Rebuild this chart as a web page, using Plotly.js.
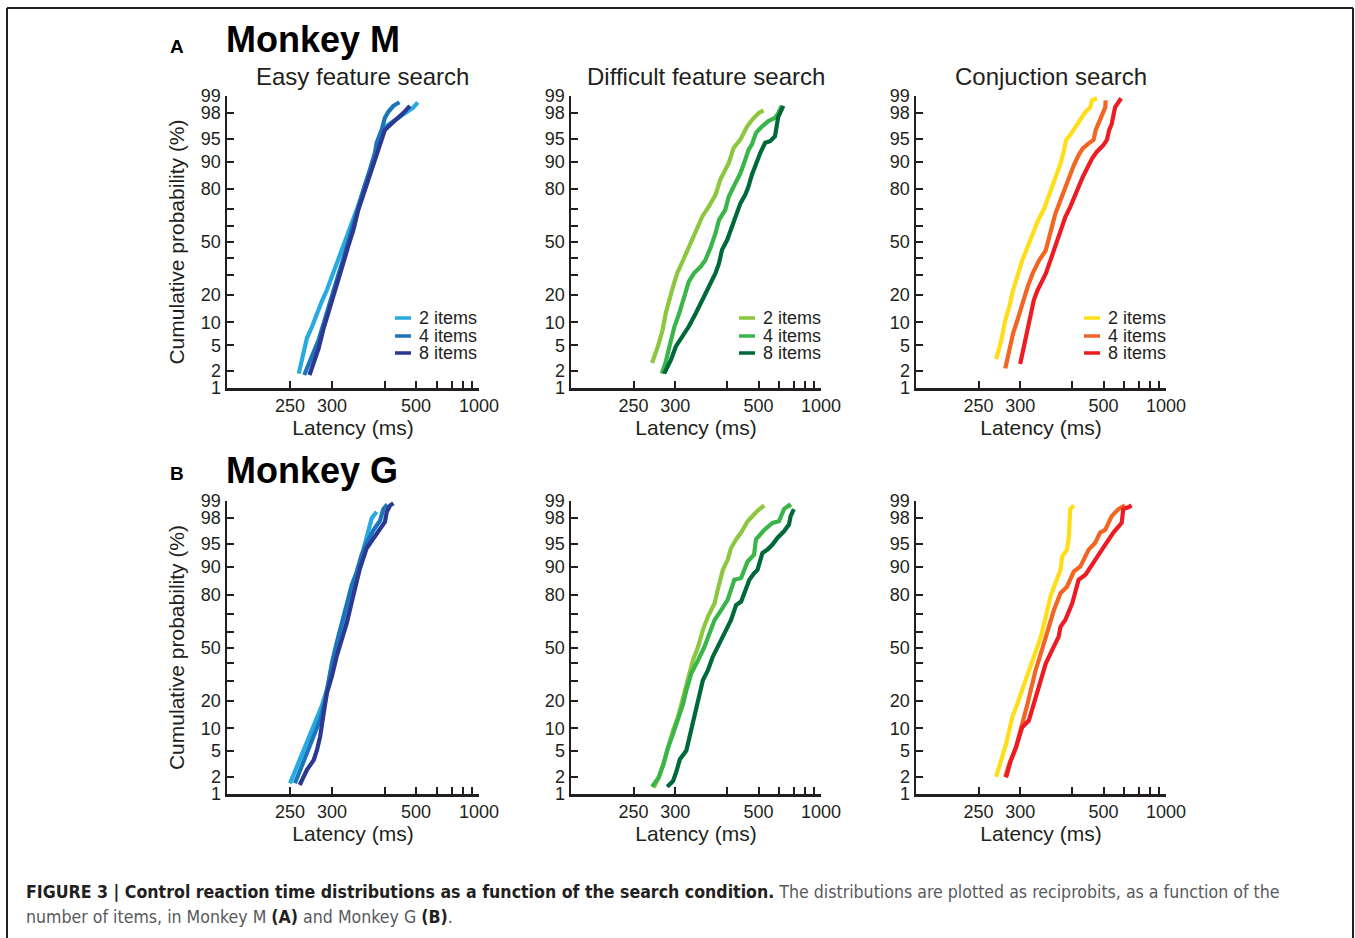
<!DOCTYPE html>
<html><head><meta charset="utf-8">
<script src="https://cdn.plot.ly/plotly-3.0.1.min.js"></script>
<style>html,body{margin:0;padding:0;background:#fff}#chart{width:1355px;height:938px}</style>
</head><body><div id="chart"></div>
<script>
// ---------- labels ----------
const itemLabels = ['2 items', '4 items', '8 items'];
const panelTitles = ['Easy feature search', 'Difficult feature search', 'Conjuction search'];
const monkeyTitles = ['Monkey M', 'Monkey G'];
const panelLetters = ['A', 'B'];
const xTitle = 'Latency (ms)';
const yTitle = 'Cumulative probability (%)';
const xTickVals = [250, 300, 400, 500, 600, 700, 800, 900, 1000];
const xTickText = ['250', '300', '', '500', '', '', '', '', '1000'];
const yTickVals = [1, 2, 5, 10, 20, 30, 40, 50, 60, 70, 80, 90, 95, 98, 99];
const yTickText = ['1', '2', '5', '10', '20', '', '', '50', '', '', '80', '90', '95', '98', '99'];
const blues = ['#27AAE1', '#1C75BC', '#2B3990'];
const greens = ['#8DC63F', '#39B54A', '#00693A'];
const warms = ['#FFDE17', '#F26522', '#ED1C24'];

// ---------- Monkey M : easy feature search ----------
const mEasy2Lat = [259, 262, 266, 268, 274, 280, 286, 293, 300, 307, 315, 323, 328, 340, 353, 366, 381, 393, 406, 429, 460, 490, 507];
const mEasy2Pct = [1.8, 2.8, 4.3, 6.3, 8.9, 12.8, 17.1, 22.3, 29.1, 36.8, 45.1, 53.5, 57.7, 69.6, 79.8, 87.5, 92.9, 95.6, 96.8, 97.4, 97.9, 98.4, 98.7];
const mEasy4Lat = [265, 270, 276, 282, 287, 293, 300, 307, 315, 323, 331, 340, 353, 366, 377, 381, 393, 401, 410, 424, 442];
const mEasy4Pct = [1.7, 2.7, 4.0, 5.9, 8.9, 12.8, 19.2, 27.3, 36.8, 47.2, 57.7, 69.6, 79.8, 87.5, 92.2, 94.3, 96.3, 97.6, 98.1, 98.5, 98.7];
const mEasy8Lat = [271, 276, 282, 288, 295, 302, 309, 317, 325, 334, 343, 356, 370, 385, 393, 401, 415, 434, 454, 477];
const mEasy8Pct = [1.7, 2.7, 4.5, 8.1, 12.8, 19.2, 27.3, 36.8, 47.2, 57.7, 69.6, 79.8, 87.5, 92.9, 94.8, 96.3, 96.9, 97.5, 98.0, 98.5];

// ---------- Monkey M : difficult feature search ----------
const mDiff2Lat = [270, 277, 283, 287, 297, 303, 311, 324, 333, 345, 358, 372, 383, 404, 417, 437, 458, 475, 500, 521];
const mDiff2Pct = [2.7, 4.8, 8.1, 12.8, 23.9, 31, 37.8, 49.3, 57.7, 65.8, 71.5, 77.4, 84, 89.6, 93.3, 94.9, 96.7, 97.4, 98.0, 98.2];
const mDiff4Lat = [282, 287, 292, 299, 306, 313, 321, 330, 342, 351, 361, 372, 380, 395, 404, 422, 437, 452, 463, 475, 490, 514, 543, 576, 594, 614];
const mDiff4Pct = [1.8, 2.8, 4.8, 8.9, 12.8, 19.2, 26.4, 31, 34.8, 38.8, 46.1, 55.6, 63.8, 69.6, 76.6, 82.6, 86.4, 90.5, 92.9, 94.0, 95.9, 96.7, 97.3, 97.6, 98.0, 98.5];
const mDiff8Lat = [285, 294, 301, 311, 321, 333, 345, 358, 372, 380, 387, 400, 413, 422, 437, 452, 463, 475, 490, 507, 528, 551, 576, 594, 624];
const mDiff8Pct = [1.8, 3.0, 4.8, 6.6, 8.9, 12.8, 17.8, 23.9, 31, 36.8, 45, 51.4, 59.8, 65.8, 73.2, 77.4, 81.2, 85.8, 89.6, 92.2, 94.3, 94.6, 95.4, 97.7, 98.5];

// ---------- Monkey M : conjunction search ----------
const mConj2Lat = [269, 275, 280, 285, 290, 296, 303, 311, 319, 327, 339, 345, 351, 361, 372, 380, 385, 395, 408, 422, 437, 452, 458, 475];
const mConj2Pct = [3.1, 5.8, 10.6, 15, 22, 29.7, 38.5, 46.8, 55.3, 62.5, 70.3, 74.7, 79.5, 84.4, 89.4, 92.8, 94.8, 95.6, 96.7, 97.5, 98.1, 98.4, 98.8, 98.9];
const mConj4Lat = [280, 285, 290, 296, 303, 311, 319, 330, 342, 349, 355, 361, 372, 383, 395, 404, 417, 429, 447, 463, 471, 483, 500, 507, 509];
const mConj4Pct = [2.2, 4.2, 7.2, 10.6, 16.3, 23.6, 30.7, 38.5, 44.7, 53.2, 59.5, 67.4, 74.7, 81, 86.2, 88.9, 91.7, 93.2, 94.2, 94.8, 96.3, 97.2, 98.0, 98.4, 98.8];
const mConj8Lat = [300, 306, 311, 316, 321, 327, 333, 342, 351, 360, 368, 376, 383, 395, 407, 417, 429, 442, 458, 475, 500, 514, 524, 535, 543, 551, 568, 582];
const mConj8Pct = [2.6, 5.2, 8.8, 12.6, 17.6, 22, 25.3, 30.7, 38.5, 46.8, 52.1, 59.5, 65.5, 71.2, 76.4, 81, 85, 87.9, 90.8, 92.5, 93.9, 94.8, 96.3, 97.0, 97.7, 98.4, 98.7, 98.9];

// ---------- Monkey G : easy feature search ----------
const gEasy2Lat = [250, 257, 264, 272, 280, 286, 293, 300, 304, 312, 320, 327, 334, 343, 353, 363, 370, 381];
const gEasy2Pct = [1.55, 2.9, 5.2, 8.7, 12.6, 17.6, 25.3, 38.5, 46.8, 57.4, 69.3, 79.5, 85, 89.5, 94.2, 96.7, 98.0, 98.45];
const gEasy4Lat = [255, 262, 270, 278, 284, 290, 295, 300, 307, 315, 323, 331, 340, 349, 359, 374, 389, 397, 407];
const gEasy4Pct = [1.55, 2.9, 5.2, 8.7, 12.6, 19, 28.8, 40.5, 53.1, 65.5, 76.4, 83.8, 88.5, 92.8, 95.1, 96.9, 97.8, 98.6, 98.85];
const gEasy8Lat = [260, 268, 276, 280, 284, 288, 290, 293, 300, 307, 315, 323, 331, 337, 346, 359, 374, 389, 401, 406, 415, 424];
const gEasy8Pct = [1.45, 2.6, 3.7, 5.2, 7.9, 12.6, 17.6, 23.6, 32.5, 44.7, 55.3, 65.5, 76.4, 82.4, 89.5, 94.2, 95.8, 96.9, 97.7, 98.45, 98.8, 98.9];

// ---------- Monkey G : difficult feature search ----------
const gDiff2Lat = [272, 278, 284, 290, 297, 304, 312, 320, 328, 337, 346, 356, 370, 377, 389, 401, 410, 424, 439, 460, 477, 496, 524];
const gDiff2Pct = [1.3, 1.95, 3.2, 5.6, 9.4, 13.4, 21.6, 32, 42, 50.4, 60.9, 68.8, 75.9, 82, 89.1, 91.8, 94.3, 95.7, 96.6, 97.75, 98.15, 98.5, 98.8];
const gDiff4Lat = [270, 278, 284, 290, 297, 304, 312, 317, 325, 337, 349, 359, 370, 385, 401, 419, 439, 460, 483, 490, 524, 563, 598, 628, 661, 673];
const gDiff4Pct = [1.35, 1.95, 3.2, 5.6, 8.5, 12.3, 18.6, 24.8, 33.9, 42, 50.4, 58.8, 66.9, 72.4, 77.5, 85.9, 86.5, 91.4, 93, 95.7, 96.9, 97.6, 97.75, 98.6, 98.8, 98.7];
const gDiff8Lat = [289, 297, 302, 307, 317, 325, 331, 340, 346, 356, 366, 377, 393, 410, 424, 439, 449, 466, 483, 496, 516, 539, 563, 589, 628, 661, 673, 697];
const gDiff8Pct = [1.35, 1.7, 2.5, 3.8, 5.1, 9.4, 14.6, 21.6, 30.1, 35.9, 44.1, 50.4, 58.8, 66.9, 75, 76.7, 80.6, 85.9, 88.1, 89.1, 93.3, 94, 94.9, 95.9, 96.75, 97.45, 98.15, 98.6];

// ---------- Monkey G : conjunction search ----------
const gConj2Lat = [269, 275, 281, 285, 289, 296, 303, 311, 319, 327, 333, 339, 345, 351, 361, 372, 376, 387, 391, 393, 395, 404];
const gConj2Pct = [2.0, 3.6, 6.3, 9.4, 13.4, 18.6, 24.8, 32, 42, 50.4, 56.8, 64.9, 72.4, 79.1, 84.6, 89.1, 92.6, 94, 95.7, 97.2, 98.6, 98.8];
const gConj4Lat = [280, 285, 294, 301, 306, 311, 316, 324, 333, 342, 348, 358, 372, 387, 404, 422, 447, 469, 487, 507, 535, 568, 604];
const gConj4Pct = [2.0, 3.2, 5.6, 9.4, 13.4, 18.6, 24.8, 35.9, 46.2, 56.8, 62.9, 72.4, 80.6, 83.3, 88.6, 90.1, 94, 95.2, 96.6, 96.9, 98.15, 98.6, 98.8];
const gConj8Lat = [281, 287, 294, 299, 303, 313, 321, 333, 342, 351, 361, 368, 372, 383, 400, 417, 437, 452, 469, 494, 514, 543, 585, 594, 624, 645];
const gConj8Pct = [1.95, 3.6, 5.6, 7.7, 10.3, 12.3, 18.6, 30.1, 39.9, 46.2, 52.5, 56.8, 62.9, 66.9, 75.9, 85.9, 87.6, 89.6, 91.8, 94, 95.4, 96.6, 97.6, 98.6, 98.7, 98.8];

const panels = [
  {row: 0, col: 0, colors: blues,  lat: [mEasy2Lat, mEasy4Lat, mEasy8Lat], pct: [mEasy2Pct, mEasy4Pct, mEasy8Pct]},
  {row: 0, col: 1, colors: greens, lat: [mDiff2Lat, mDiff4Lat, mDiff8Lat], pct: [mDiff2Pct, mDiff4Pct, mDiff8Pct]},
  {row: 0, col: 2, colors: warms,  lat: [mConj2Lat, mConj4Lat, mConj8Lat], pct: [mConj2Pct, mConj4Pct, mConj8Pct]},
  {row: 1, col: 0, colors: blues,  lat: [gEasy2Lat, gEasy4Lat, gEasy8Lat], pct: [gEasy2Pct, gEasy4Pct, gEasy8Pct]},
  {row: 1, col: 1, colors: greens, lat: [gDiff2Lat, gDiff4Lat, gDiff8Lat], pct: [gDiff2Pct, gDiff4Pct, gDiff8Pct]},
  {row: 1, col: 2, colors: warms,  lat: [gConj2Lat, gConj4Lat, gConj8Lat], pct: [gConj2Pct, gConj4Pct, gConj8Pct]}
];

// ---------- reciprobit transforms ----------
function probit(p) { // inverse standard normal CDF (Acklam)
  const a = [-3.969683028665376e+01, 2.209460984245205e+02, -2.759285104469687e+02, 1.383577518672690e+02, -3.066479806614716e+01, 2.506628277459239e+00];
  const b = [-5.447609879822406e+01, 1.615858368580409e+02, -1.556989798598866e+02, 6.680131188771972e+01, -1.328068155833179e+01];
  const c = [-7.784894002430293e-03, -3.223964580411365e-01, -2.400758277161838e+00, -2.549732539343734e+00, 4.374664141464968e+00, 2.938163982698783e+00];
  const d = [7.784695709041462e-03, 3.224671290700398e-01, 2.445134137142996e+00, 3.754408661907416e+00];
  const pl = 0.02425, ph = 1 - pl;
  let q, r;
  if (p < pl) { q = Math.sqrt(-2 * Math.log(p)); return (((((c[0]*q+c[1])*q+c[2])*q+c[3])*q+c[4])*q+c[5]) / ((((d[0]*q+d[1])*q+d[2])*q+d[3])*q+1); }
  if (p > ph) { q = Math.sqrt(-2 * Math.log(1 - p)); return -(((((c[0]*q+c[1])*q+c[2])*q+c[3])*q+c[4])*q+c[5]) / ((((d[0]*q+d[1])*q+d[2])*q+d[3])*q+1); }
  q = p - 0.5; r = q * q;
  return (((((a[0]*r+a[1])*r+a[2])*r+a[3])*r+a[4])*r+a[5])*q / (((((b[0]*r+b[1])*r+b[2])*r+b[3])*r+b[4])*r+1);
}
const recip = t => -1000 / t;           // reciprocal latency axis
const zOf = pct => probit(pct / 100);   // probit probability axis

// ---------- layout geometry (pixels) ----------
const W = 1355, H = 938;
const px = x => x / W, py = y => 1 - y / H;
const colLeft = [227, 571, 916], colWidth = [252, 250, 250];
const rowTop = [96, 501], rowBottom = [388, 794];
const INK = '#231f20';
const FONT = 'Liberation Sans, Arial, Helvetica, sans-serif';
const CAPFONT = 'Liberation Sans Narrow, Arial Narrow, DejaVu Sans Condensed, Liberation Sans, sans-serif';

const traces = [];
const layout = {
  width: W, height: H, autosize: false,
  margin: {l: 0, r: 0, t: 0, b: 0},
  paper_bgcolor: '#fff', plot_bgcolor: 'rgba(0,0,0,0)',
  showlegend: false,
  annotations: [], shapes: []
};

panels.forEach((pn, i) => {
  const sfx = i === 0 ? '' : String(i + 1);
  pn.lat.forEach((latArr, k) => {
    traces.push({
      type: 'scatter', mode: 'lines',
      x: latArr.map(recip), y: pn.pct[k].map(zOf),
      xaxis: 'x' + sfx, yaxis: 'y' + sfx,
      name: itemLabels[k],
      line: {color: pn.colors[k], width: 4.2},
      hoverinfo: 'skip'
    });
  });
  const x0 = colLeft[pn.col], x1 = x0 + colWidth[pn.col];
  layout['xaxis' + sfx] = {
    domain: [px(x0), px(x1)], anchor: 'y' + sfx,
    range: [-5, -1], tickvals: xTickVals.map(recip), ticktext: xTickText,
    ticks: 'inside', ticklen: 7, tickwidth: 2, tickcolor: INK,
    showline: true, linewidth: 2.5, linecolor: INK,
    showgrid: false, zeroline: false, fixedrange: true,
    tickfont: {family: FONT, size: 18, color: INK},
    title: {text: xTitle, font: {family: FONT, size: 21, color: INK}, standoff: 5}
  };
  layout['yaxis' + sfx] = {
    domain: [py(rowBottom[pn.row]), py(rowTop[pn.row])], anchor: 'x' + sfx,
    range: [zOf(1), zOf(99)], tickvals: yTickVals.map(zOf), ticktext: yTickText,
    ticks: 'inside', ticklen: 7, tickwidth: 2, tickcolor: INK,
    showline: true, linewidth: 2.5, linecolor: INK,
    showgrid: false, zeroline: false, fixedrange: true,
    tickfont: {family: FONT, size: 18, color: INK},
    title: pn.col === 0 ? {text: yTitle, font: {family: FONT, size: 21, color: INK}, standoff: 11} : {text: ''}
  };
  if (pn.row === 0) {
    // panel title
    layout.annotations.push({
      xref: 'paper', yref: 'paper', x: px(x0 + 135), y: py(76),
      xanchor: 'center', yanchor: 'middle', showarrow: false,
      text: panelTitles[pn.col], font: {family: FONT, size: 24, color: INK}
    });
    // legend
    const ly = [318, 336, 353];
    itemLabels.forEach((lab, k) => {
      layout.shapes.push({
        type: 'line', xref: 'paper', yref: 'paper',
        x0: px(x0 + 168), x1: px(x0 + 184), y0: py(ly[k]), y1: py(ly[k]),
        line: {color: pn.colors[k], width: 3.5}
      });
      layout.annotations.push({
        xref: 'paper', yref: 'paper', x: px(x0 + 190), y: py(ly[k]),
        xanchor: 'left', yanchor: 'middle', showarrow: false,
        height: 16, valign: 'middle',
        text: lab, font: {family: FONT, size: 18, color: INK}
      });
    });
  }
});

// monkey headings and panel letters
const headY = [40, 470], letterY = [47, 473];
monkeyTitles.forEach((t, r) => {
  layout.annotations.push({
    xref: 'paper', yref: 'paper', x: px(224), y: py(headY[r]),
    xanchor: 'left', yanchor: 'middle', showarrow: false,
    text: '<b>' + t + '</b>', font: {family: FONT, size: 36, color: '#000'}
  });
  layout.annotations.push({
    xref: 'paper', yref: 'paper', x: px(177), y: py(letterY[r]),
    xanchor: 'center', yanchor: 'middle', showarrow: false,
    text: '<b>' + panelLetters[r] + '</b>', font: {family: FONT, size: 19, color: '#000'}
  });
});

// caption
const capBold = s => '<b><span style="color:' + INK + '">' + s + '</span></b>';
layout.annotations.push({
  xref: 'paper', yref: 'paper', x: px(24), y: py(892),
  xanchor: 'left', yanchor: 'middle', showarrow: false,
  text: capBold('FIGURE 3 | Control reaction time distributions as a function of the search condition.') + ' The distributions are plotted as reciprobits, as a function of the',
  font: {family: CAPFONT, size: 17.6, color: '#58595b'}
});
layout.annotations.push({
  xref: 'paper', yref: 'paper', x: px(24), y: py(917),
  xanchor: 'left', yanchor: 'middle', showarrow: false,
  text: 'number of items, in Monkey M ' + capBold('(A)') + ' and Monkey G ' + capBold('(B)') + '.',
  font: {family: CAPFONT, size: 17.6, color: '#58595b'}
});

// frame
const frame = {color: INK, width: 2};
layout.shapes.push({type: 'line', xref: 'paper', yref: 'paper', x0: px(7), x1: px(1353), y0: py(8), y1: py(8), line: frame});
layout.shapes.push({type: 'line', xref: 'paper', yref: 'paper', x0: px(7), x1: px(7), y0: py(8), y1: 0, line: frame});
layout.shapes.push({type: 'line', xref: 'paper', yref: 'paper', x0: px(1353), x1: px(1353), y0: py(8), y1: 0, line: frame});

Plotly.newPlot('chart', traces, layout, {staticPlot: true, displayModeBar: false});
</script>
</body></html>
